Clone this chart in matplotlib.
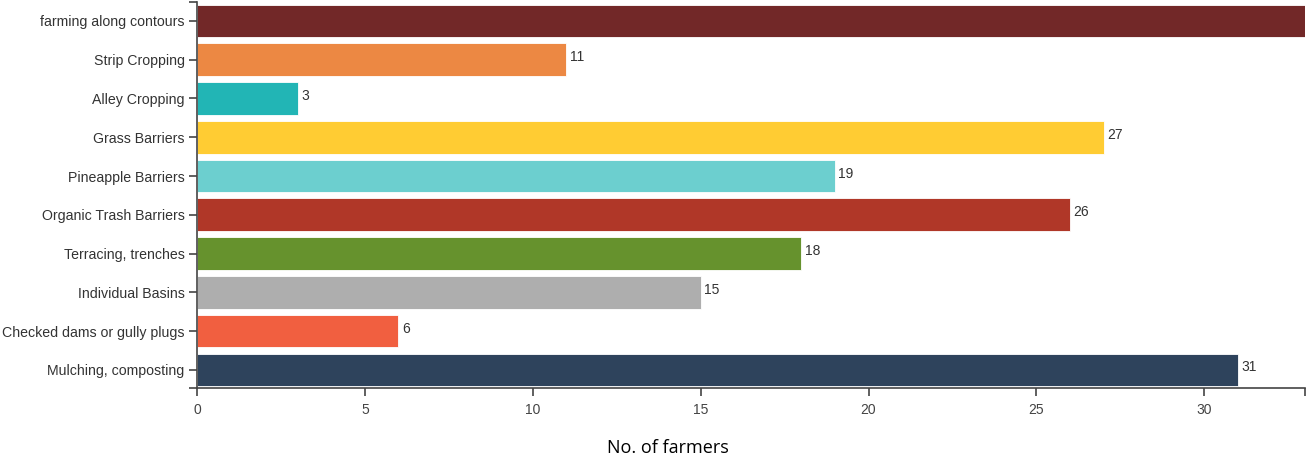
import matplotlib
matplotlib.use("Agg")
import matplotlib.pyplot as plt

categories = ["farming along contours", "Strip Cropping", "Alley Cropping", "Grass Barriers",
              "Pineapple Barriers", "Organic Trash Barriers", "Terracing, trenches",
              "Individual Basins", "Checked dams or gully plugs", "Mulching, composting"]
values = [33, 11, 3, 27, 19, 26, 18, 15, 6, 31]
colors = ["#722828", "#EC8843", "#22B5B5", "#FFCC33", "#6CCFCF", "#B03728",
          "#66922D", "#AEAEAE", "#F15F40", "#2E435C"]
xticks = [0, 5, 10, 15, 20, 25, 30]
xmax = 33

fig = plt.figure(figsize=(13.07, 4.57), dpi=100)
ax = fig.add_axes([197/1307, 1 - 388/457, (1305 - 197)/1307, (388 - 2)/457])

ypos = list(range(len(categories)))
ax.barh(ypos, values, height=0.84, color=colors, edgecolor="white", linewidth=0.6)
for y, v in zip(ypos, values):
    if v < xmax:  # the label of a bar reaching the axis end is cut off in the source
        ax.text(v + 0.1, y - 0.06, str(v), va="center", ha="left", fontsize=10,
                family="Liberation Sans", color="#333333")

ax.set_xlim(0, xmax)
ax.set_ylim(9.47, -0.49)
ax.set_yticks(ypos)
ax.set_yticklabels(categories, family="Liberation Sans", fontsize=10.2, color="#333333")
ax.set_xticks(xticks)
ax.set_xticklabels([str(t) for t in xticks], family="Liberation Sans", fontsize=10, color="#444444")
ax.set_xticks([xmax], minor=True)
ax.set_yticks([9.47, -0.49], minor=True)
ax.tick_params(which="both", length=6, width=1.2, color="#444444", pad=3)
ax.tick_params(axis="x", which="major", pad=5)

for s in ["top", "right"]:
    ax.spines[s].set_visible(False)
for s in ["left", "bottom"]:
    ax.spines[s].set_color("#444444")
    ax.spines[s].set_linewidth(1.2)

fig.text(668/1307, 1 - 448/457, "No. of farmers", ha="center", va="center",
         family="Open Sans", fontsize=13, color="#000000")

fig.savefig("out.png", dpi=100)
